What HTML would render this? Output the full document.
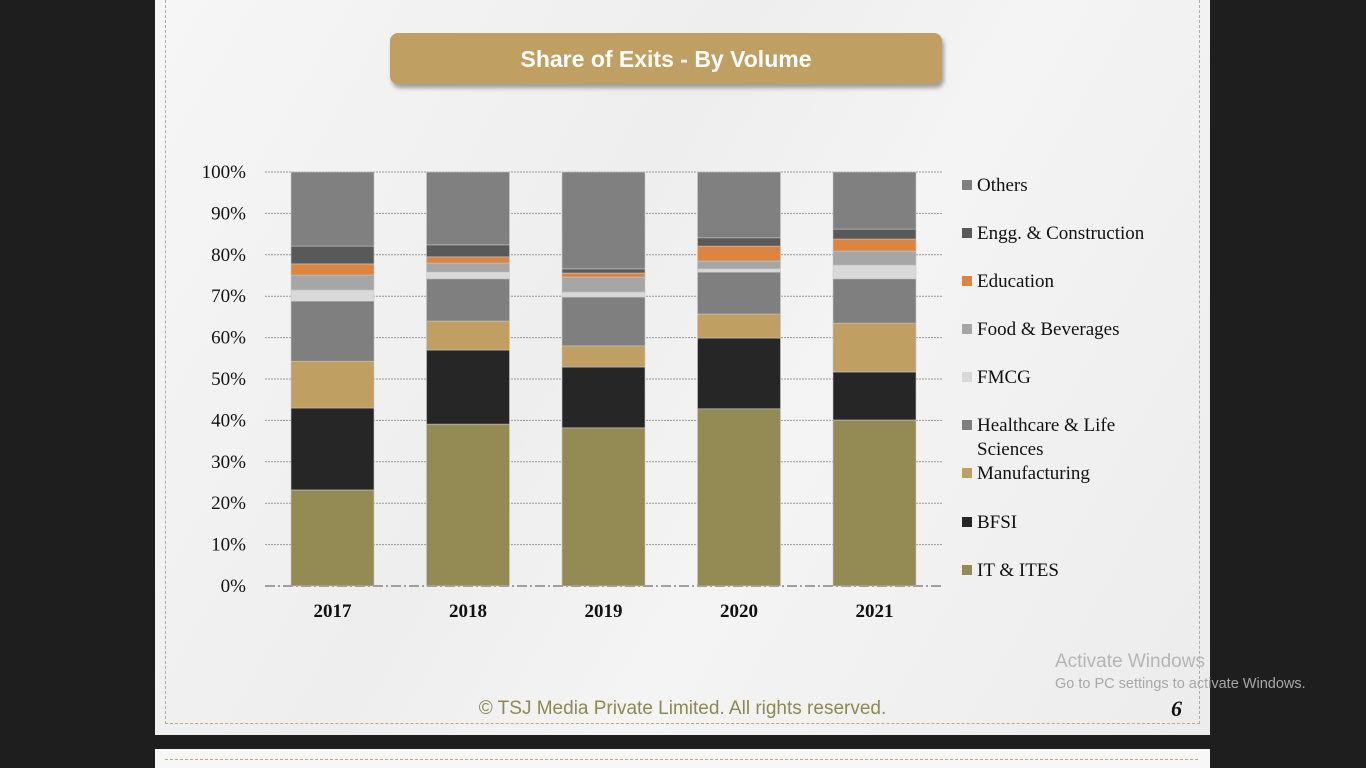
<!DOCTYPE html>
<html><head><meta charset="utf-8"><style>
html,body{margin:0;padding:0;background:#1e1e1e;width:1366px;height:768px;overflow:hidden;font-family:"Liberation Serif",serif;}
.slide{position:absolute;left:155px;top:0;width:1055px;height:735px;background:linear-gradient(120deg,#f6f6f6 0%,#eeeeee 40%,#f4f4f4 60%,#ececec 100%);}
.slide2{position:absolute;left:155px;top:749px;width:1055px;height:19px;background:#f7f7f7;overflow:hidden;}
.border{position:absolute;left:10px;top:-5px;width:1033px;height:727px;border:1px dashed #c9a96e;}
.border2{position:absolute;left:10px;top:10px;width:1033px;height:40px;border-top:1px dashed #c9a96e;}
.title{position:absolute;left:235px;top:33px;width:552px;height:51px;background:#bf9f62;border-radius:8px;box-shadow:2px 4px 4px rgba(0,0,0,0.35);color:#fff;font:bold 23px "Liberation Sans",sans-serif;text-align:center;line-height:52px;}
.footer{position:absolute;left:0;width:1055px;top:698px;text-align:center;color:#8f8850;font:19px "Liberation Sans",sans-serif;}
.pg{position:absolute;left:1016px;top:696px;font:bold italic 22px "Liberation Serif",serif;color:#111;}
.wm1{position:absolute;left:1055px;top:651px;font:19px "Liberation Sans",sans-serif;color:#b5b5b5;}
.wm2{position:absolute;left:1055px;top:676px;font:14.5px "Liberation Sans",sans-serif;color:#a8a8a8;}
</style></head><body>
<div class="slide">
<div class="border"></div>
<div class="title">Share of Exits - By Volume</div>
<div class="footer">© TSJ Media Private Limited. All rights reserved.</div>
<div class="pg">6</div>
</div>
<div class="slide2"><div class="border2"></div></div>
<svg id="chart" width="1366" height="768" style="position:absolute;left:0;top:0"></svg>
<div class="wm1">Activate Windows</div>
<div class="wm2">Go to PC settings to activate Windows.</div>
<script>
const years = ["2017","2018","2019","2020","2021"];
const seriesNames = ["IT & ITES","BFSI","Manufacturing","Healthcare & Life Sciences","FMCG","Food & Beverages","Education","Engg. & Construction","Others"];
const itItes = [23.2,39.1,38.2,42.8,40.1];
const bfsi = [19.8,17.9,14.7,17.1,11.6];
const manufacturing = [11.3,7.0,5.1,5.8,11.8];
const healthcare = [14.5,10.2,11.8,10.1,10.7];
const fmcg = [2.7,1.6,1.2,0.8,3.3];
const foodBev = [3.6,2.2,3.6,1.9,3.4];
const education = [2.7,1.5,1.0,3.6,2.9];
const engg = [4.3,2.9,1.0,2.0,2.4];
const others = [17.9,17.6,23.4,15.9,13.8];
const yTicks = ["0%","10%","20%","30%","40%","50%","60%","70%","80%","90%","100%"];
const series = [itItes,bfsi,manufacturing,healthcare,fmcg,foodBev,education,engg,others];
const colors = ["#948a54","#262626","#bf9f62","#7f7f7f","#d9d9d9","#a6a6a6","#dd8440","#595959","#808080"];
const NS="http://www.w3.org/2000/svg";
const svg=document.getElementById('chart');
const y0=586,y1=172,xL=265,xR=942,x0=291,pitch=135.5,bw=83;
const yS=v=>y0-(v/100)*(y0-y1);
const xS=i=>x0+i*pitch;
function mk(t,a){const e=document.createElementNS(NS,t);for(const k in a)e.setAttribute(k,a[k]);svg.appendChild(e);return e;}
yTicks.forEach((t,i)=>{
  const v=i*10;
  if(i>0){const g=mk('line',{x1:xL,x2:xR,y1:yS(v),y2:yS(v),stroke:'#9a9a9a','stroke-width':1,'stroke-dasharray':'2,1'});
  
  }
  const tx=mk('text',{x:246,y:yS(v)+6,'text-anchor':'end','font-size':19,fill:'#111','font-family':'"Liberation Serif",serif'});
  tx.textContent=t;
  
  
});
years.forEach((yr,i)=>{
  let cum=0;
  series.forEach((s,k)=>{
    const r=mk('rect',{x:xS(i),y:yS(cum+s[i]),width:bw,height:yS(cum)-yS(cum+s[i]),fill:colors[k],stroke:'#c8c8c8','stroke-width':0.6});
    
    
    cum+=s[i];
  });
  const t=mk('text',{x:xS(i)+bw/2,y:617,'text-anchor':'middle','font-size':19,'font-weight':'bold',fill:'#111','font-family':'"Liberation Serif",serif'});
  t.textContent=yr;
  
  
});
const ax=mk('line',{x1:xL,x2:xR,y1:y0,y2:y0,stroke:'#a0a0a0','stroke-width':2,'stroke-dasharray':'10,3,2,3'});


const legOrder=[8,7,6,5,4,3,2,1,0];
const legY=[185,233,281,329,377,425,473,522,570];
legOrder.forEach((k,j)=>{
  const sq=mk('rect',{x:962,y:legY[j]-5,width:10,height:10,fill:colors[k]});
  
  
  const t=mk('text',{x:977,y:legY[j]+6,'font-size':19,fill:'#111','font-family':'"Liberation Serif",serif'});
  
  
  if(k===3){t.textContent='Healthcare & Life';const t2=mk('text',{x:977,y:legY[j]+30,'font-size':19,fill:'#111','font-family':'"Liberation Serif",serif'});t2.textContent='Sciences';
  
  }
  else t.textContent=seriesNames[k];
});
</script>
</body></html>
